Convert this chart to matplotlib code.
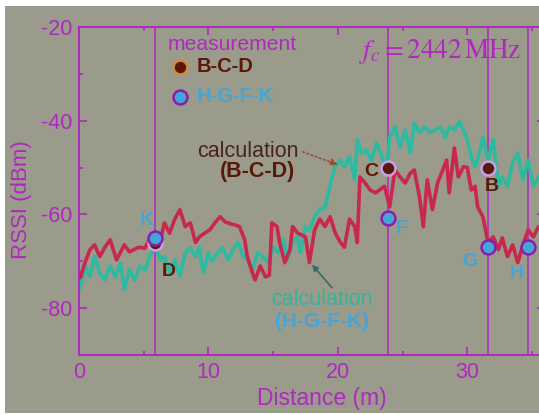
import matplotlib
matplotlib.use("Agg")
import matplotlib.pyplot as plt
from matplotlib.patches import Rectangle

# ---------------- data ----------------
calc_bcd_dist = [0.0, 0.1, 0.5, 0.85, 1.2, 1.6, 2.0, 2.4, 2.9, 3.5, 3.9, 4.6, 5.1, 5.5, 5.9, 6.3, 6.6, 7.0,
                 7.4, 7.8, 8.2, 8.6, 9.0, 9.3, 9.7, 10.1, 10.5, 10.9, 11.3, 11.7, 12.0, 12.4, 12.8, 13.0,
                 13.4, 13.6, 14.0, 14.4, 14.7, 14.9, 15.3, 15.5, 15.9, 16.3, 16.5, 16.9, 17.5, 17.8, 18.2,
                 18.6, 19.0, 19.4, 19.8, 20.2, 20.5, 20.9, 21.3, 21.5, 21.7, 22.1, 22.5, 22.9, 23.2, 23.6,
                 24.0, 24.4, 24.8, 25.2, 25.6, 25.9, 26.3, 26.6, 26.9, 27.3, 27.7, 28.1, 28.4, 28.6, 29.0,
                 29.3, 29.7, 30.0, 30.3, 30.6, 30.8, 31.2, 31.6, 32.0, 32.4, 32.7, 33.1, 33.5, 33.9, 34.3,
                 34.7, 35.1, 35.5, 36.0]
calc_bcd_rssi = [-72.5, -73.5, -70, -67.5, -66.5, -69, -67, -65.4, -69.7, -66.5, -68, -67, -67.2, -65, -66,
                 -65.4, -61.8, -64, -61, -59, -62.6, -61.8, -66, -64.8, -64, -63.3, -61.8, -60.5, -61.6, -62,
                 -62.2, -62.6, -65.4, -69, -72.5, -74, -71, -73.3, -73, -61.8, -62.6, -66, -70.3, -67.5,
                 -62.6, -64, -64.8, -70.3, -63.3, -61, -62.6, -60.5, -64, -66, -67, -61, -62.6, -66, -52,
                 -53.3, -54.8, -55.4, -54.8, -54, -58.4, -50.5, -52, -53.3, -51.2, -50.5, -56.2, -62.6,
                 -52.6, -59, -53.3, -50.5, -48.4, -55.4, -45.8, -52, -49.8, -50, -54.8, -54, -58.4, -60.5,
                 -66, -64.8, -67.5, -65, -69, -66.5, -70.3, -66.5, -63.3, -64.8, -62.6, -64]

calc_hgfk_dist = [0.0, 0.1, 0.5, 0.85, 1.2, 1.6, 2.0, 2.4, 2.8, 3.2, 3.5, 3.9, 4.3, 4.7, 5.1, 5.5, 5.9, 6.3,
                  6.6, 7.0, 7.4, 7.8, 8.2, 8.6, 9.0, 9.3, 9.6, 10.0, 10.3, 10.7, 11.1, 11.5, 11.9, 12.3,
                  12.7, 13.0, 13.4, 13.8, 14.2, 14.6, 15.0, 15.4, 15.8, 16.1, 16.5, 16.9, 17.1, 17.5, 17.8,
                  18.2, 18.6, 19.0, 19.2, 19.5, 19.8, 20.2, 20.5, 20.9, 21.3, 21.5, 21.8, 22.2, 22.6, 23.0,
                  23.4, 23.8, 24.0, 24.4, 24.8, 25.2, 25.6, 25.9, 26.3, 26.7, 27.1, 27.5, 27.9, 28.3, 28.6,
                  29.0, 29.4, 29.8, 30.0, 30.3, 30.6, 31.0, 31.2, 31.6, 32.0, 32.4, 32.7, 33.1, 33.5, 33.9,
                  34.3, 34.7, 35.1, 35.5, 36.0]
calc_hgfk_rssi = [-76, -75.4, -71, -73.3, -69, -72.5, -74, -71, -73.3, -70.3, -76, -71.8, -74, -71, -71.8,
                  -68.6, -67, -69.7, -69, -72.5, -69.7, -73.3, -68.2, -67.2, -69, -67, -72.5, -68.2, -70,
                  -68.2, -67.2, -69.7, -67.5, -66, -69, -69.7, -71.8, -68.2, -69, -70.3, -67, -68.2, -65.4,
                  -69.7, -66, -64.8, -68.2, -62.6, -63.3, -60.5, -59, -58.4, -56.2, -52.6, -49.8, -48.4,
                  -49.8, -47.7, -52.6, -44, -46.9, -46.2, -48.4, -44.7, -47.7, -49.8, -43.5, -41.3, -45.6,
                  -42, -46.9, -40.5, -42.6, -41.3, -42.6, -42, -41.3, -43.5, -41.3, -42, -40.2, -42.6, -44,
                  -47.7, -49.8, -46.2, -43.5, -48.4, -44, -54, -52, -54, -49, -46.9, -52.6, -48.4, -54, -52,
                  -50]

meas_bcd_labels = ["D", "C", "B"]
meas_bcd_dist = [5.9, 23.9, 31.6]
meas_bcd_rssi = [-66.2, -50.0, -50.0]

meas_hgfk_labels = ["K", "F", "G", "H"]
meas_hgfk_dist = [5.9, 23.9, 31.6, 34.7]
meas_hgfk_rssi = [-65.0, -60.8, -66.9, -66.9]

x_ticks = [0, 10, 20, 30]
y_ticks = [-20, -40, -60, -80]

# ---------------- style ----------------
BG = "#9b9b8b"
PURPLE = "#b028c0"
RED = "#c8284e"
TEAL = "#2cbaa0"
BROWN = "#5a1808"
BLUE = "#44a6d8"
LAV = "#c8a0e8"

plt.rcParams["font.family"] = ["Liberation Sans", "DejaVu Sans"]
plt.rcParams["mathtext.fontset"] = "stix"
plt.rcParams["axes.unicode_minus"] = False

fig = plt.figure(figsize=(5.39, 4.15), dpi=100, facecolor=BG)
# white margins of the original scan
fig.patches.append(Rectangle((0, 0), 5 / 539, 1, transform=fig.transFigure,
                             facecolor="white", edgecolor="none", zorder=-5))
fig.patches.append(Rectangle((0, 409 / 415), 1, 6 / 415, transform=fig.transFigure,
                             facecolor="white", edgecolor="none", zorder=-5))
fig.patches.append(Rectangle((0, 0), 1, 2 / 415, transform=fig.transFigure,
                             facecolor="white", edgecolor="none", zorder=-5))

ax = fig.add_axes([79 / 539, 60 / 415, 466 / 539, 328 / 415])
ax.set_facecolor(BG)
ax.set_xlim(0, 36)
ax.set_ylim(-90, -20)

for s in ax.spines.values():
    s.set_color(PURPLE)
    s.set_linewidth(1.4)

ax.set_xticks(x_ticks)
ax.set_yticks(y_ticks)
ax.set_xticks([5, 15, 25, 35], minor=True)
ax.set_yticks([-30, -50, -70], minor=True)
ax.tick_params(which="both", direction="in", color=PURPLE, top=True, right=True,
               labelcolor=PURPLE, labelsize=15.5)
ax.tick_params(which="major", length=5.7, width=1.2, pad=5)
ax.tick_params(which="minor", length=2.6, width=1.2)
ax.set_xlabel("Distance (m)", color=PURPLE, fontsize=16.5)
ax.set_ylabel("RSSI (dBm)", color=PURPLE, fontsize=16)
ax.xaxis.set_label_coords(0.5215, -0.098)
ax.yaxis.set_label_coords(-0.10, 0.473)

# vertical lines at measurement positions
for d in meas_hgfk_dist:
    ax.axvline(d, color=PURPLE, lw=1.1, zorder=1)

ax.plot(calc_hgfk_dist, calc_hgfk_rssi, color=TEAL, lw=2.6, zorder=2)
ax.plot(calc_bcd_dist, calc_bcd_rssi, color=RED, lw=2.6, zorder=3)

ax.plot(meas_bcd_dist, meas_bcd_rssi, "o", ms=10, mfc=BROWN, mec=LAV, mew=1.8, ls="none", zorder=5)
ax.plot(meas_hgfk_dist, meas_hgfk_rssi, "o", ms=10, mfc=BLUE, mec="#8a1eaa", mew=1.8, ls="none", zorder=6)

# point labels
lab_pos = {"D": (6.95, -72.2), "C": (22.6, -50.9), "B": (31.9, -54.1),
           "K": (5.25, -61.2), "F": (24.95, -62.9), "G": (30.2, -70.1), "H": (33.8, -72.7)}
for lab in meas_bcd_labels:
    ax.text(*lab_pos[lab], lab, color=BROWN, fontsize=14, fontweight="bold",
            ha="center", va="center", zorder=7)
for lab in meas_hgfk_labels:
    ax.text(*lab_pos[lab], lab, color=BLUE, fontsize=14, fontweight="bold",
            ha="center", va="center", zorder=7)

# legend-like block
ax.text(6.87, -23.8, "measurement", color=PURPLE, fontsize=15.2, ha="left", va="center")
ax.plot([7.8], [-28.5], "o", ms=10, mfc=BROWN, mec="#d08a40", mew=1.8, clip_on=False)
ax.text(9.1, -28.5, "B-C-D", color=BROWN, fontsize=14.5, fontweight="bold", ha="left", va="center")
ax.plot([7.8], [-34.9], "o", ms=10, mfc=BLUE, mec="#8a1eaa", mew=1.8, clip_on=False)
ax.text(9.1, -34.9, "H-G-F-K", color=BLUE, fontsize=14.5, fontweight="bold", ha="left", va="center")

# calculation annotations
ax.text(13.05, -46.65, "calculation", color="#4a2418", fontsize=15.5, ha="center", va="center")
ax.text(13.8, -50.9, "(B-C-D)", color=BROWN, fontsize=15.5, fontweight="bold", ha="center", va="center")
ax.annotate("", xy=(20.0, -49.4), xytext=(17.3, -46.65),
            arrowprops=dict(arrowstyle="-|>", color="#a04830", lw=1.2, ls=":",
                            mutation_scale=10, shrinkA=0, shrinkB=0))

ax.text(18.76, -78.2, "calculation", color="#34b49a", fontsize=15.5, ha="center", va="center")
ax.text(18.76, -82.9, "(H-G-F-K)", color=BLUE, fontsize=15, fontweight="bold", ha="center", va="center")
ax.annotate("", xy=(18.0, -70.7), xytext=(19.54, -75.65),
            arrowprops=dict(arrowstyle="-|>", color="#3a6a6a", lw=1.2,
                            mutation_scale=9, shrinkA=0, shrinkB=0))

ax.text(27.9, -25.3, r"$f_c = 2442\,\mathrm{MHz}$", color=PURPLE, fontsize=19.5,
        ha="center", va="center")

fig.savefig("out.png", dpi=100, facecolor=BG)
